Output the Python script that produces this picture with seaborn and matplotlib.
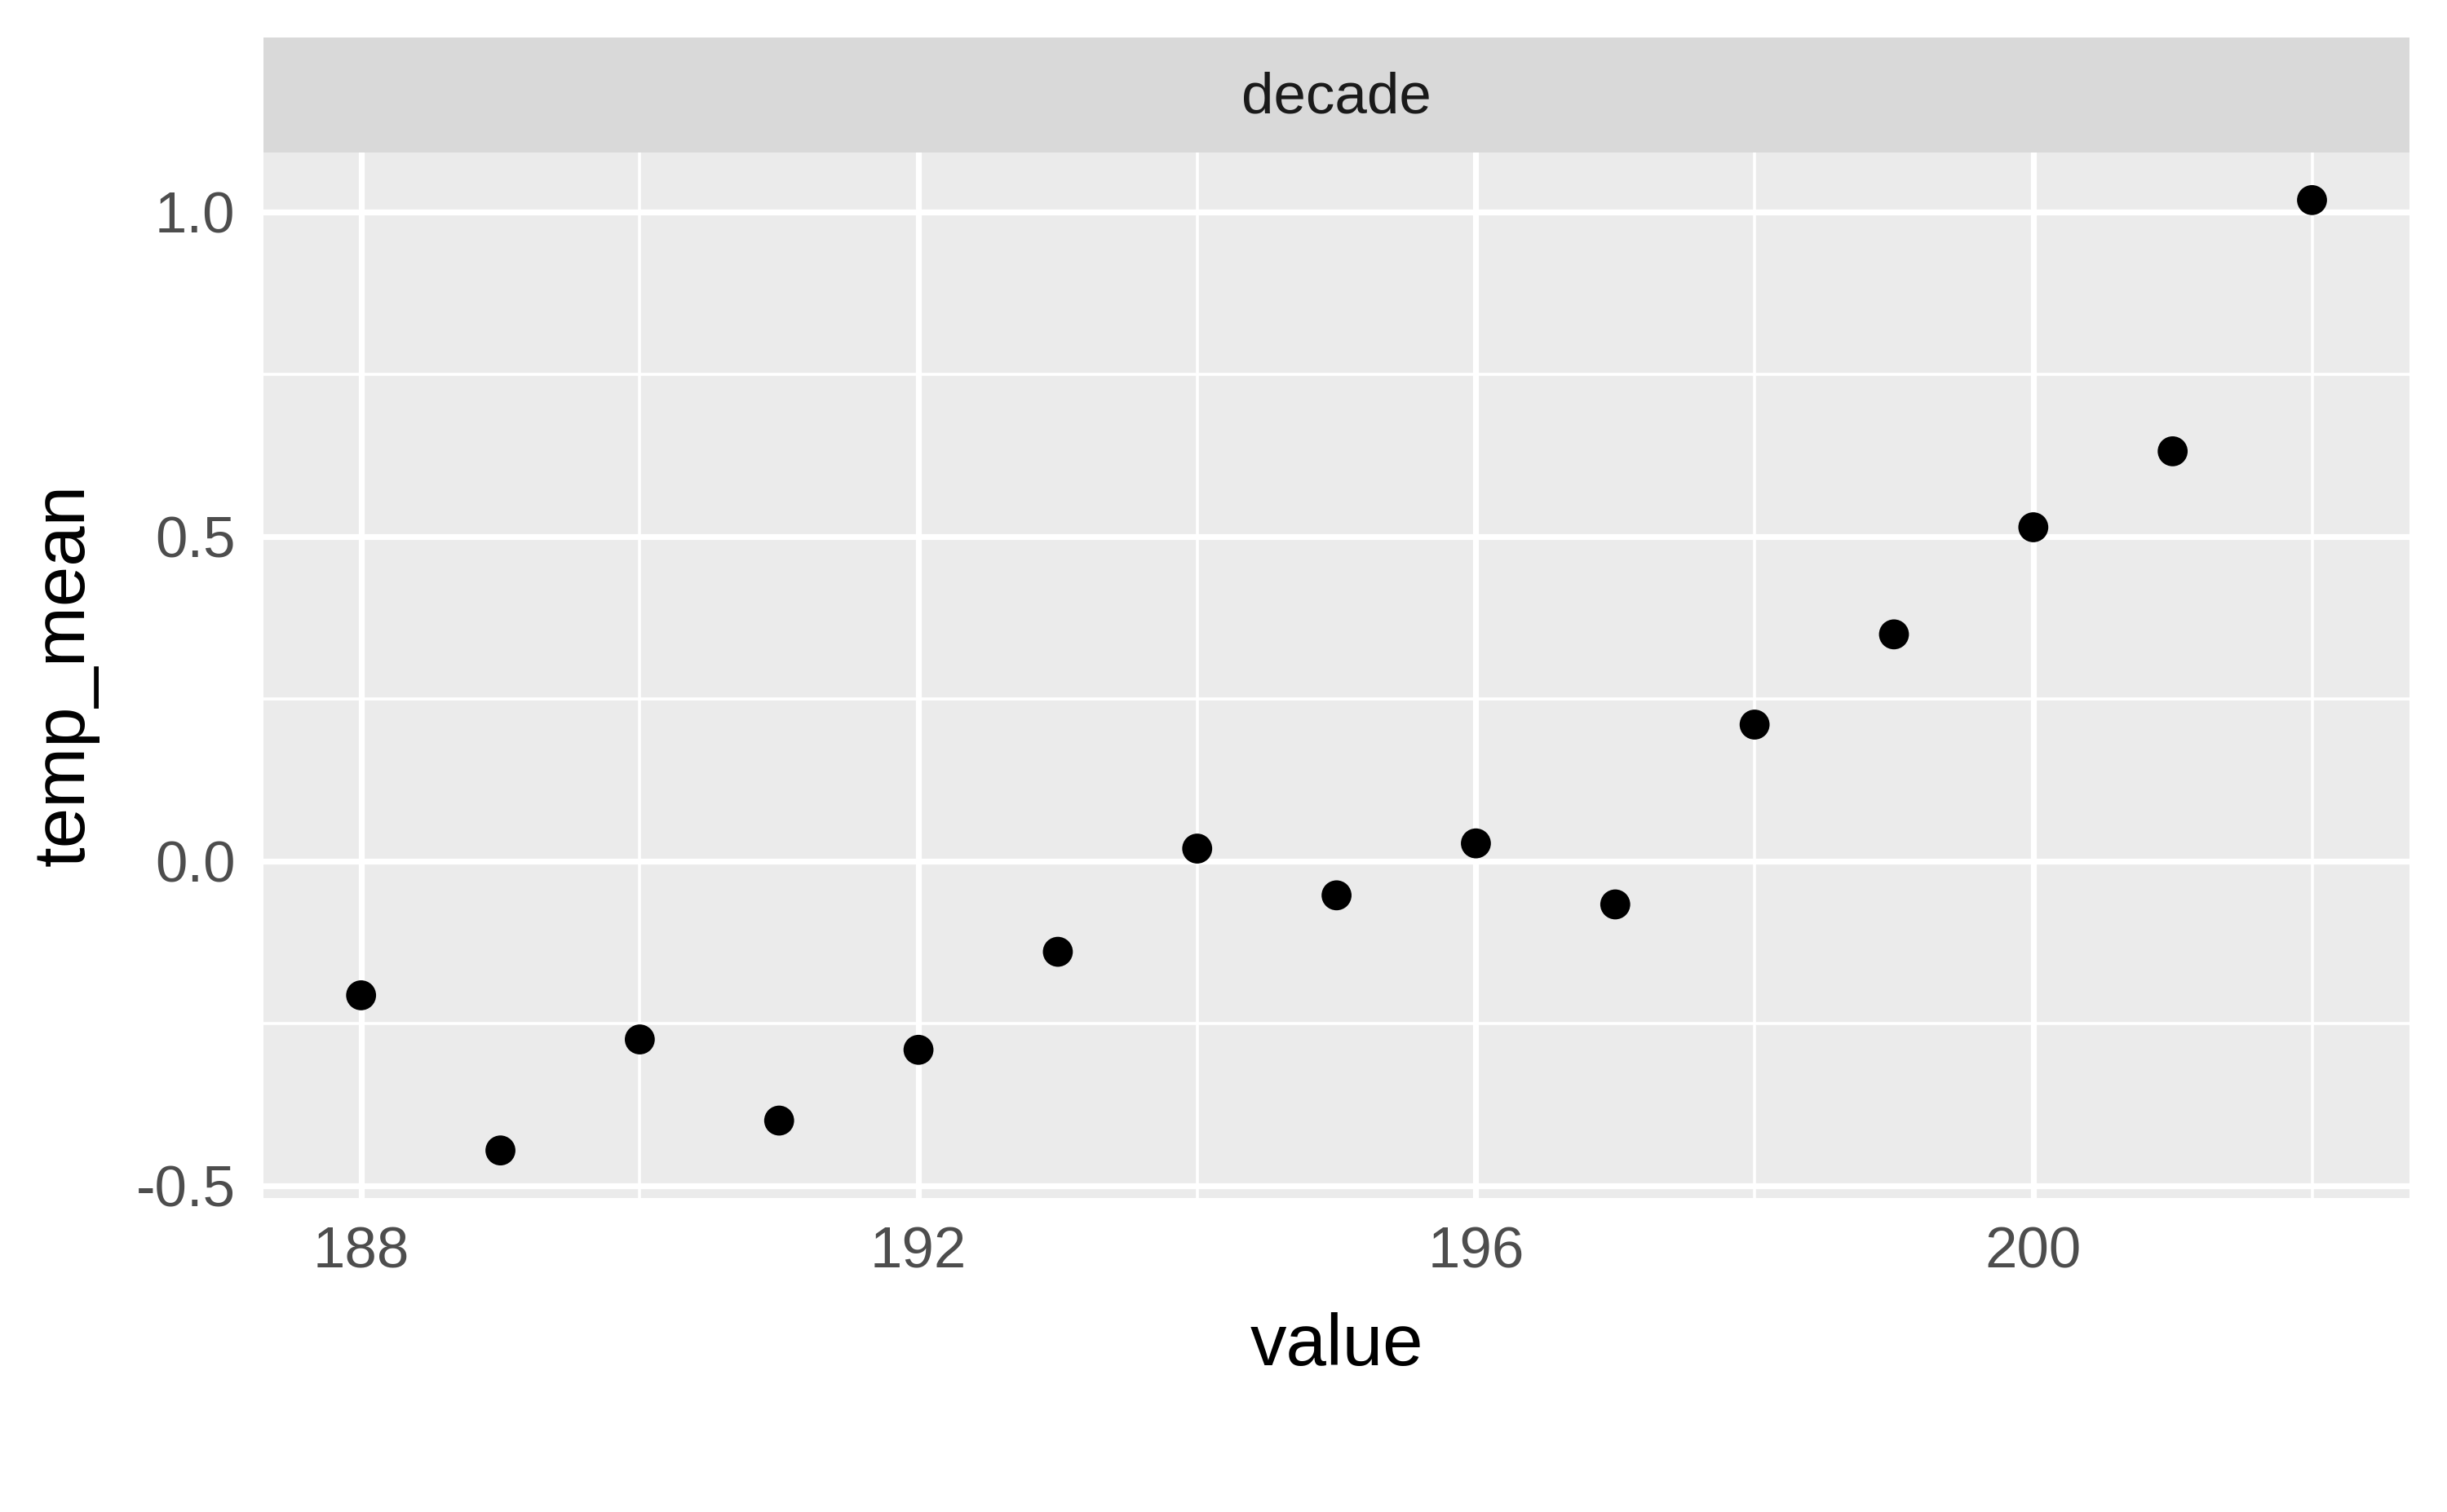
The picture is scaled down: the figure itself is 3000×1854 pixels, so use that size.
import numpy as np
import pandas as pd
import matplotlib
matplotlib.use("Agg")
import matplotlib.pyplot as plt
import seaborn as sns

# decade (first three digits of year) vs mean temperature anomaly
decades = [188, 189, 190, 191, 192, 193, 194, 195, 196, 197, 198, 199, 200, 201, 202]
temp_mean = [-0.207, -0.446, -0.275, -0.400, -0.291, -0.140, 0.019, -0.053,
             0.027, -0.067, 0.210, 0.349, 0.514, 0.631, 1.018]
x_ticks = [188, 192, 196, 200]
x_minor = [190, 194, 198, 202]
y_ticks = [-0.5, 0.0, 0.5, 1.0]
y_tick_labels = ["-0.5", "0.0", "0.5", "1.0"]
y_minor = [-0.25, 0.25, 0.75]

df = pd.DataFrame({"value": decades, "temp_mean": temp_mean})

sns.set_style("white")
plt.rcParams["font.family"] = ["Liberation Sans", "DejaVu Sans"]

DPI = 200
fig = plt.figure(figsize=(3000 / DPI, 1854 / DPI), dpi=DPI)

# panel
left, right = 0.1077, 0.9847
bottom, top = 0.2077, 0.8991
ax = fig.add_axes([left, bottom, right - left, top - bottom])
ax.set_facecolor("#EBEBEB")
ax.set_axisbelow(True)

sns.scatterplot(data=df, x="value", y="temp_mean", ax=ax, color="black",
                s=175, edgecolor="none", linewidth=0, zorder=3)

xr = max(decades) - min(decades)
ax.set_xlim(min(decades) - 0.05 * xr, max(decades) + 0.05 * xr)
yr = max(temp_mean) - min(temp_mean)
ax.set_ylim(min(temp_mean) - 0.05 * yr, max(temp_mean) + 0.05 * yr)

ax.set_xticks(x_ticks)
ax.set_xticklabels([str(t) for t in x_ticks])
ax.set_xticks(x_minor, minor=True)
ax.set_yticks(y_ticks)
ax.set_yticklabels(y_tick_labels)
ax.set_yticks(y_minor, minor=True)

ax.grid(which="major", color="white", linewidth=2.6)
ax.grid(which="minor", color="white", linewidth=1.3)

for s in ax.spines.values():
    s.set_visible(False)

ax.tick_params(axis="both", which="major", length=5.5, width=2.4, color="#333333",
               labelcolor="#4D4D4D", labelsize=25.5, pad=7)
ax.tick_params(axis="both", which="minor", length=0)

ax.set_xlabel("value", fontsize=32, color="black", labelpad=14)
ax.set_ylabel("temp_mean", fontsize=32, color="black", labelpad=16)

# facet strip
strip = fig.add_axes([left, top, right - left, 0.9752 - top])
strip.set_facecolor("#D9D9D9")
strip.set_xticks([])
strip.set_yticks([])
for s in strip.spines.values():
    s.set_visible(False)
strip.text(0.5, 0.47, "decade", ha="center", va="center", fontsize=25.5,
           color="#1A1A1A", transform=strip.transAxes)

fig.savefig("out.png", dpi=DPI, facecolor="white")
